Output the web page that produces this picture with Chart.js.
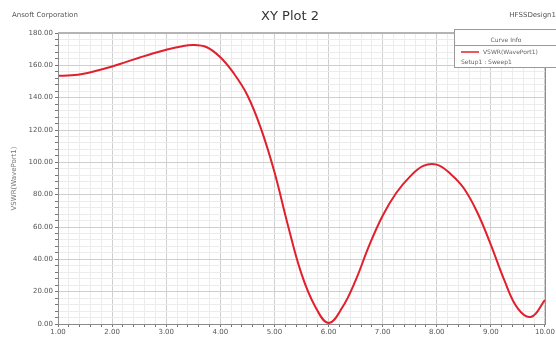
<!DOCTYPE html>
<html>
<head>
<meta charset="utf-8">
<script src="https://cdn.jsdelivr.net/npm/chart.js@4/dist/chart.umd.min.js"></script>
<style>
  html, body { margin: 0; padding: 0; background: #fff; }
  #wrap { width: 556px; height: 338px; }
</style>
</head>
<body>
<div id="wrap"><canvas id="xy-plot" width="556" height="338"></canvas></div>
<script>
// Freq (x) and VSWR (y)
const freqs = [1.00, 1.25, 1.50, 1.75, 2.00, 2.25, 2.50, 2.75, 3.00, 3.25, 3.50, 3.75,
               4.00, 4.25, 4.50, 4.75, 5.00, 5.25, 5.50, 5.75, 6.00, 6.25, 6.50, 6.75,
               7.00, 7.25, 7.50, 7.75, 8.00, 8.25, 8.50, 8.75, 9.00, 9.25, 9.50,
               9.75, 10.00];
const vswr = [153.6, 153.8, 155.0, 157.0, 159.3, 162.0, 164.7, 167.3, 169.6, 171.5, 172.6, 171.2,
              165.0, 155.0, 141.5, 121.0, 94.0, 61.0, 31.0, 11.0, 0.6, 10.0, 27.0, 48.5,
              67.0, 81.0, 91.0, 97.8, 98.6, 93.0, 84.0, 69.0, 49.0, 27.0, 9.5,
              4.5, 14.9];
const yTicks = [0, 20, 40, 60, 80, 100, 120, 140, 160, 180];
const xTicks = [1, 2, 3, 4, 5, 6, 7, 8, 9, 10];

const seriesName = 'VSWR(WavePort1)';
const setupName = 'Setup1 : Sweep1';

const isMajor = (v, step) => Math.abs(v / step - Math.round(v / step)) < 1e-6;

const decorations = {
    id: 'decorations',
    afterDraw(chart) {
        const ctx = chart.ctx;
        const a = chart.chartArea;
        ctx.save();
        // plot frame
        ctx.strokeStyle = '#8c8c8c';
        ctx.lineWidth = 1;
        ctx.strokeRect(a.left + 0.5, a.top + 0.5, a.right - a.left, a.bottom - a.top);
        ctx.strokeStyle = '#b4b4b4';
        ctx.lineWidth = 2;
        ctx.beginPath();
        ctx.moveTo(a.left, a.top);
        ctx.lineTo(a.right, a.top);
        ctx.stroke();

        // header texts
        ctx.fillStyle = '#555';
        ctx.font = '7px "DejaVu Sans"';
        ctx.textBaseline = 'middle';
        ctx.textAlign = 'left';
        ctx.fillText('Ansoft Corporation', 12, 15);
        ctx.textAlign = 'right';
        ctx.fillText('HFSSDesign1', 556, 15);
        ctx.fillStyle = '#333';
        ctx.font = '13px "DejaVu Sans"';
        ctx.textAlign = 'center';
        ctx.fillText('XY Plot 2', 290, 17);

        // curve info box
        const bx = 454, by = 29, bw = 110, bh = 38;
        ctx.fillStyle = '#fff';
        ctx.fillRect(bx, by, bw, bh);
        ctx.strokeStyle = '#9a9a9a';
        ctx.lineWidth = 1;
        ctx.strokeRect(bx + 0.5, by + 0.5, bw, bh);
        ctx.beginPath();
        ctx.moveTo(bx, by + 16.5);
        ctx.lineTo(bx + bw, by + 16.5);
        ctx.stroke();
        ctx.fillStyle = '#666';
        ctx.font = '6px "DejaVu Sans"';
        ctx.textAlign = 'center';
        ctx.fillText('Curve Info', 506, 40);
        ctx.textAlign = 'left';
        ctx.fillText(seriesName, 483, 52);
        ctx.fillText(setupName, 461, 62);
        ctx.strokeStyle = '#e0202c';
        ctx.lineWidth = 1.5;
        ctx.beginPath();
        ctx.moveTo(461, 52);
        ctx.lineTo(479, 52);
        ctx.stroke();
        ctx.restore();
    }
};

new Chart(document.getElementById('xy-plot').getContext('2d'), {
    type: 'line',
    data: {
        datasets: [{
            label: seriesName,
            data: freqs.map((f, i) => ({ x: f, y: vswr[i] })),
            borderColor: '#e0202c',
            borderWidth: 2,
            pointRadius: 0,
            fill: false,
            tension: 0.4
        }]
    },
    options: {
        responsive: false,
        animation: false,
        layout: { padding: { left: 0, right: 7, top: 33, bottom: 0 } },
        plugins: {
            legend: { display: false },
            tooltip: { enabled: false }
        },
        scales: {
            x: {
                type: 'linear',
                min: xTicks[0],
                max: xTicks[xTicks.length - 1],
                afterFit(scale) { scale.height = 14; },
                ticks: {
                    stepSize: 0.2,
                    autoSkip: false,
                    maxRotation: 0,
                    padding: 1,
                    color: '#555',
                    font: { size: 7, family: 'DejaVu Sans' },
                    callback: (v) => xTicks.some(t => Math.abs(t - v) < 1e-6) ? v.toFixed(2) : ''
                },
                grid: {
                    color: (c) => isMajor(c.tick.value, 1) ? '#cfcfcf' : '#ececec',
                    tickLength: 3,
                    tickColor: '#777'
                },
                border: { color: '#777' }
            },
            y: {
                min: yTicks[0],
                max: yTicks[yTicks.length - 1],
                afterFit(scale) { scale.width = 58; },
                title: {
                    display: true,
                    text: 'VSWR(WavePort1)',
                    color: '#777',
                    font: { size: 7, family: 'DejaVu Sans' },
                    padding: { top: 10, bottom: 0 }
                },
                ticks: {
                    stepSize: 4,
                    autoSkip: false,
                    padding: 2,
                    color: '#555',
                    font: { size: 7, family: 'DejaVu Sans' },
                    callback: (v) => yTicks.includes(v) ? v.toFixed(2) : ''
                },
                grid: {
                    color: (c) => isMajor(c.tick.value, 20) ? '#cfcfcf' : '#ececec',
                    tickLength: 3,
                    tickColor: '#777'
                },
                border: { color: '#777' }
            }
        }
    },
    plugins: [decorations]
});
</script>
</body>
</html>
